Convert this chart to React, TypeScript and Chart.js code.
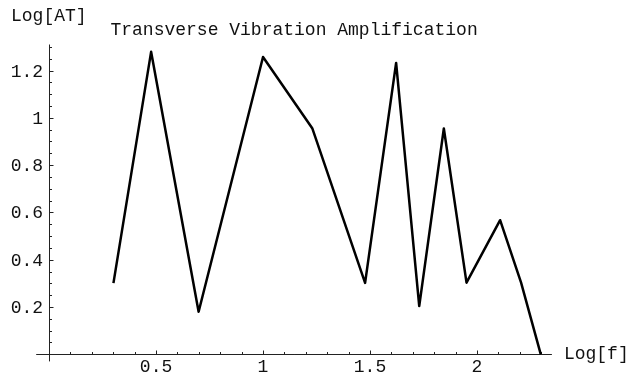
import React, { useEffect, useRef } from "react";
import { Chart, registerables } from "chart.js";

Chart.register(...registerables);

const logF = [0.301, 0.477, 0.699, 1.0, 1.23, 1.477, 1.622, 1.73, 1.845, 1.951, 2.108, 2.206, 2.298];
const logAT = [0.301, 1.279, 0.18, 1.257, 0.956, 0.302, 1.232, 0.204, 0.955, 0.303, 0.567, 0.303, 0.0];

const xTickLabels = [0.5, 1, 1.5, 2];
const yTickLabels = [0.2, 0.4, 0.6, 0.8, 1, 1.2];

const titleText = "Transverse Vibration Amplification";
const xAxisLabel = "Log[f]";
const yAxisLabel = "Log[AT]";

const FONT = '18px "Liberation Mono", "Courier New", monospace';

const axesPlugin = {
  id: "mmaAxes",
  beforeDatasetsDraw(chart: any) {
    const { ctx, scales } = chart;
    const xs = scales.x;
    const ys = scales.y;
    const x0 = xs.getPixelForValue(0);
    const y0 = ys.getPixelForValue(0);
    ctx.save();
    ctx.strokeStyle = "#222";
    ctx.lineWidth = 1;
    ctx.beginPath();
    // x axis
    ctx.moveTo(xs.left, Math.round(y0) + 0.5);
    ctx.lineTo(xs.right, Math.round(y0) + 0.5);
    // y axis
    ctx.moveTo(Math.round(x0) + 0.5, ys.top);
    ctx.lineTo(Math.round(x0) + 0.5, ys.bottom);
    ctx.stroke();

    // x ticks
    ctx.beginPath();
    for (let i = 1; i <= 23; i++) {
      const v = i / 10;
      const px = Math.round(xs.getPixelForValue(v)) + 0.5;
      const len = i % 5 === 0 ? 3.5 : 2;
      ctx.moveTo(px, Math.round(y0));
      ctx.lineTo(px, Math.round(y0) - len);
    }
    // y ticks
    for (let i = 1; i <= 26; i++) {
      const v = i / 20;
      const py = Math.round(ys.getPixelForValue(v)) + 0.5;
      const len = i % 4 === 0 ? 3.5 : 2;
      ctx.moveTo(Math.round(x0) + 1, py);
      ctx.lineTo(Math.round(x0) + 1 + len, py);
    }
    ctx.stroke();

    // tick labels
    ctx.fillStyle = "#111";
    ctx.font = FONT;
    ctx.textBaseline = "alphabetic";
    ctx.textAlign = "center";
    xTickLabels.forEach((v) => {
      ctx.fillText(String(v), xs.getPixelForValue(v), y0 + 18);
    });
    ctx.textAlign = "right";
    yTickLabels.forEach((v) => {
      ctx.fillText(String(v), x0 - 6, ys.getPixelForValue(v) + 6);
    });

    // axis labels and title
    ctx.textAlign = "left";
    ctx.fillText(yAxisLabel, 11, 21);
    ctx.fillText(xAxisLabel, xs.right + 12, y0 + 5);
    ctx.textAlign = "center";
    ctx.fillText(titleText, (xs.left + xs.right) / 2, 35);
    ctx.restore();
  },
};

export default function App() {
  const ref = useRef<HTMLCanvasElement>(null);
  useEffect(() => {
    document.body.style.margin = "0";
    if (!ref.current) return;
    const chart = new Chart(ref.current, {
      type: "line",
      data: {
        datasets: [
          {
            data: logF.map((x, i) => ({ x, y: logAT[i] })),
            borderColor: "#000",
            borderWidth: 2.5,
            borderJoinStyle: "round",
            borderCapStyle: "butt",
            pointRadius: 0,
            tension: 0,
            fill: false,
            clip: false as any,
          },
        ],
      },
      options: {
        animation: false,
        responsive: false,
        devicePixelRatio: 1,
        layout: { padding: { left: 36.2, right: 87.1, top: 44.5, bottom: 11.6 } },
        plugins: { legend: { display: false }, tooltip: { enabled: false }, title: { display: false } },
        scales: {
          x: { type: "linear", min: -0.06, max: 2.35, display: false },
          y: { type: "linear", min: -0.03, max: 1.31, display: false },
        },
      },
      plugins: [axesPlugin],
    });
    return () => chart.destroy();
  }, []);
  return (
    <div style={{ position: "absolute", left: 0, top: 0, width: 639, height: 373, background: "#fff" }}>
      <canvas ref={ref} width={639} height={373} />
    </div>
  );
}
